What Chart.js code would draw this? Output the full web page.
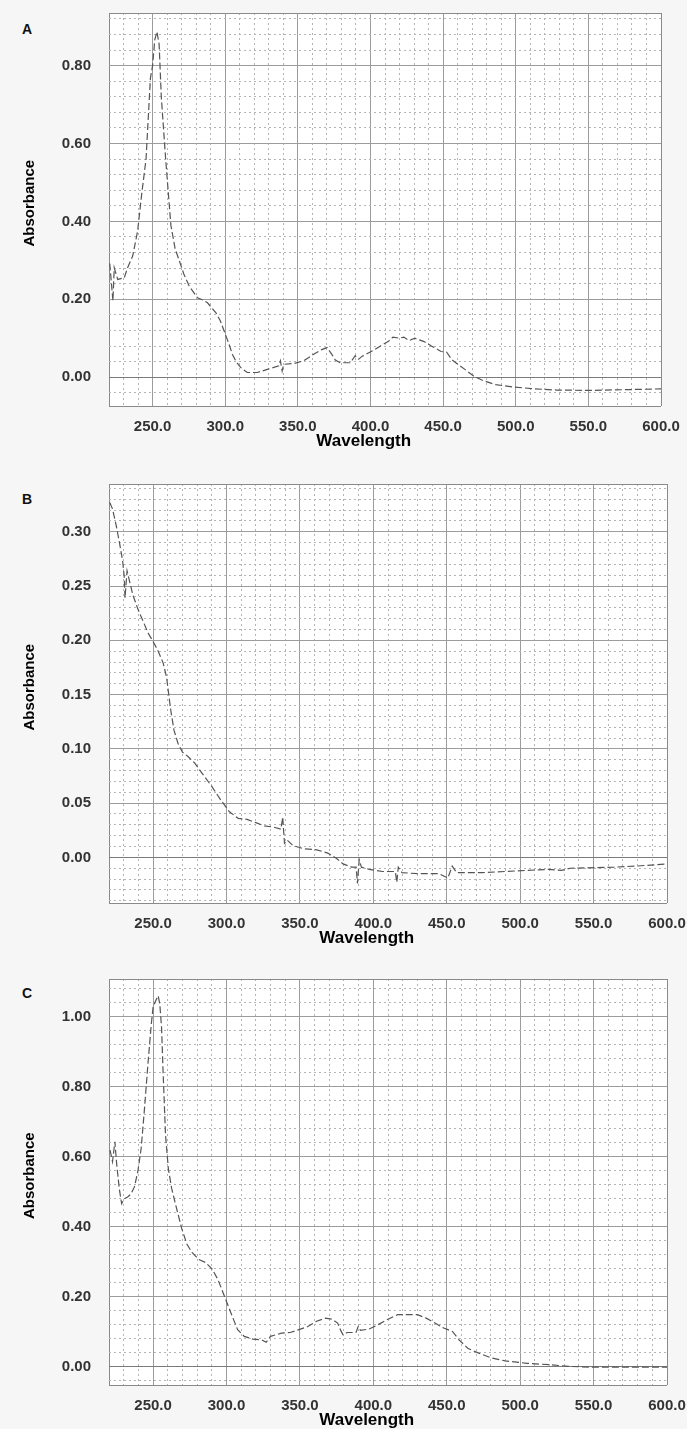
<!DOCTYPE html>
<html>
<head>
<meta charset="utf-8">
<title>Absorbance spectra</title>
<script src="https://cdn.jsdelivr.net/npm/chart.js@4.4.1/dist/chart.umd.min.js"></script>
<style>
  html, body { margin: 0; padding: 0; background: #f6f6f6; overflow: hidden; }
  body { width: 687px; height: 1429px; position: relative; }
  canvas { position: absolute; left: 0; }
  .letter { position: absolute; left: 22px; font: bold 14px 'Liberation Sans', Arial, sans-serif; line-height: 16px; color: #111; }
</style>
</head>
<body>
<div class="letter" style="top:21px">A</div>
<div class="letter" style="top:491px">B</div>
<div class="letter" style="top:985px">C</div>
<canvas id="chartA" width="687" height="460" style="top:0px"></canvas>
<canvas id="chartB" width="687" height="497" style="top:460px"></canvas>
<canvas id="chartC" width="687" height="479" style="top:960px"></canvas>
<script>
// wavelength range shared by the three spectra
const xMin = 220
const xMax = 600

// panel A
const wlA = [220.5, 222.7, 223.6, 226, 230.5, 232.8, 236.3, 239.7, 242.5, 245.5, 248.5, 250, 251.5, 253, 254.5, 256, 259, 262.6, 265.5, 268.3,
  271.5, 275.2, 280.9, 284.6, 287.8, 293.5, 296.6, 299.2, 302.6, 304.9, 307.5, 310.6, 315.2, 322.1, 329, 336.9, 338, 339.2, 340.3, 347.2,
  354.1, 360.9, 366, 370.1, 373.5, 375.8, 379.2, 386.1, 389.5, 391.8, 394.4, 400.5, 406.4, 412.4, 415.5, 420, 423, 426.6, 430.5, 436.5,
  442.5, 448.6, 452.5, 456, 460.6, 465, 471, 477, 486, 498, 513, 528, 552, 576.5, 600]
const absA = [0.292, 0.196, 0.281, 0.251, 0.255, 0.281, 0.311, 0.375, 0.47, 0.56, 0.767, 0.80, 0.866, 0.887, 0.855, 0.72, 0.56, 0.39, 0.33, 0.30,
  0.265, 0.234, 0.204, 0.198, 0.191, 0.166, 0.145, 0.119, 0.085, 0.059, 0.04, 0.025, 0.012, 0.012, 0.020, 0.029, 0.042, 0.016, 0.033, 0.035,
  0.042, 0.059, 0.07, 0.076, 0.058, 0.044, 0.037, 0.037, 0.055, 0.046, 0.054, 0.066, 0.079, 0.092, 0.103, 0.100, 0.103, 0.094, 0.100, 0.092,
  0.079, 0.066, 0.064, 0.045, 0.032, 0.020, 0.003, -0.008, -0.019, -0.025, -0.030, -0.033, -0.034, -0.032, -0.030]

// panel B
const wlB = [220.5, 222.4, 224.7, 227, 229.3, 230.4, 230.9, 232.3, 233.2, 236.2, 239.6, 243.1, 246.5, 250, 253.5, 256.9, 259.2, 262, 264.3, 267,
  270, 273.8, 278.3, 284.2, 290.2, 296.1, 302, 308, 314, 320, 325.8, 331.8, 337.1, 338.3, 339.5, 341.3, 345.2, 352.6, 361.5, 369,
  375, 379.4, 385.3, 388.3, 389.2, 390.4, 391.9, 397.2, 406.2, 415, 416, 417, 419.5, 430, 444.8, 450.8, 453.7, 456.7, 474.6, 489.4,
  504.3, 519.2, 528, 534, 563.8, 578.7, 600]
const absB = [0.327, 0.321, 0.307, 0.291, 0.273, 0.258, 0.239, 0.264, 0.259, 0.242, 0.229, 0.218, 0.207, 0.199, 0.190, 0.179, 0.166, 0.136, 0.117, 0.105,
  0.097, 0.093, 0.087, 0.076, 0.065, 0.053, 0.042, 0.036, 0.035, 0.032, 0.029, 0.028, 0.026, 0.037, 0.013, 0.016, 0.011, 0.008, 0.007, 0.004,
  -0.001, -0.006, -0.009, -0.009, -0.024, -0.002, -0.009, -0.011, -0.013, -0.013, -0.023, -0.009, -0.014, -0.015, -0.015, -0.019, -0.008, -0.014, -0.014, -0.013,
  -0.012, -0.011, -0.012, -0.010, -0.009, -0.008, -0.006]

// panel C
const wlC = [220.7, 222.4, 224, 225.3, 227, 228.6, 230.4, 232.7, 235, 237.3, 239.6, 241.9, 244.2, 246.5, 248.8, 250, 251.8, 253.5, 254.6, 255.8,
  256.9, 258.5, 260.4, 262.7, 266.1, 269.6, 273, 276.5, 281.1, 285.7, 290.3, 294.2, 298.7, 303.1, 307.6, 312.1, 318, 324, 327, 330,
  337.5, 343.4, 347.9, 355.4, 361.3, 367.3, 371.8, 375.7, 377.8, 379.3, 382.2, 388.2, 389.7, 391.2, 397.2, 403.1, 409.1, 416.6, 424, 430,
  436, 442, 447.9, 453.9, 458.4, 464.3, 471.8, 480.7, 489.7, 504.6, 519.6, 534.5, 549.4, 579.3, 600]
const absC = [0.619, 0.586, 0.643, 0.576, 0.509, 0.466, 0.480, 0.485, 0.494, 0.514, 0.557, 0.624, 0.739, 0.864, 0.979, 1.027, 1.046, 1.060, 1.036, 0.969,
  0.835, 0.662, 0.566, 0.509, 0.451, 0.394, 0.351, 0.327, 0.307, 0.298, 0.279, 0.249, 0.201, 0.153, 0.106, 0.087, 0.079, 0.077, 0.070, 0.087,
  0.096, 0.098, 0.104, 0.115, 0.130, 0.139, 0.136, 0.125, 0.104, 0.092, 0.098, 0.098, 0.115, 0.104, 0.108, 0.120, 0.134, 0.149, 0.149, 0.149,
  0.139, 0.125, 0.111, 0.101, 0.077, 0.053, 0.039, 0.025, 0.017, 0.010, 0.006, 0.001, -0.001, -0.001, -0.001]

const tickFont = "'Liberation Sans', Arial, sans-serif"
const titleFont = "'Liberation Sans', Arial, sans-serif"
const nb = '\u00a0'

function isMultiple(v, step){
    return Math.abs(v / step - Math.round(v / step)) < 1e-6
}

// grid values: every minor step plus the two bounds of the axis
function gridTicks(min, max, step){
    let ticks = []
    let first = Math.ceil(min / step - 1e-9)
    let last = Math.floor(max / step + 1e-9)
    if (!isMultiple(min, step)) ticks.push({value: min})
    for (let k = first; k <= last; k++){
        ticks.push({value: Math.round(k * step * 1e6) / 1e6})
    }
    if (!isMultiple(max, step)) ticks.push({value: max})
    return ticks
}

function lineColor(ctx, major, min, max){
    if (!ctx.tick) return '#999'
    let v = ctx.tick.value
    if (Math.abs(v - min) < 1e-9 || Math.abs(v - max) < 1e-9) return '#8a8a8a'
    if (Math.abs(v) < 1e-9) return '#7a7a7a'
    return isMultiple(v, major) ? '#9c9c9c' : '#b4b4b4'
}

function lineDash(ctx, major, min, max){
    if (!ctx.tick) return []
    let v = ctx.tick.value
    if (Math.abs(v - min) < 1e-9 || Math.abs(v - max) < 1e-9) return []
    return isMultiple(v, major) ? [] : [2, 3]
}

const plotBackground = {
    id: 'plotBackground',
    beforeDraw(chart){
        const {ctx, chartArea} = chart
        ctx.save()
        ctx.fillStyle = '#ffffff'
        ctx.fillRect(chartArea.left, chartArea.top, chartArea.right - chartArea.left, chartArea.bottom - chartArea.top)
        ctx.restore()
    }
}

function spectrum(id, wl, abs, opt){
    const points = wl.map((x, i) => ({x: x, y: abs[i]}))
    const config = {
        type: 'line',
        data: {
            datasets: [{
                data: points,
                borderColor: '#555',
                borderWidth: 1.2,
                borderDash: [7, 3],
                pointRadius: 0,
                fill: false,
                tension: 0
            }]
        },
        options: {
            responsive: false,
            animation: false,
            layout: {padding: {top: opt.padTop, right: opt.padRight, bottom: 0, left: 0}},
            plugins: {legend: {display: false}, tooltip: {enabled: false}},
            scales: {
                x: {
                    type: 'linear',
                    min: xMin,
                    max: xMax,
                    afterBuildTicks: s => { s.ticks = gridTicks(xMin, xMax, 10) },
                    afterFit: s => { s.height = 54 },
                    ticks: {
                        autoSkip: false,
                        maxRotation: 0,
                        padding: 0,
                        color: '#333',
                        font: {family: tickFont, size: 15, weight: 'bold'},
                        callback: v => isMultiple(v, 50) ? v.toFixed(1) : ''
                    },
                    grid: {
                        drawTicks: true,
                        tickLength: 12,
                        tickColor: 'rgba(0,0,0,0)',
                        lineWidth: 1,
                        color: ctx => lineColor(ctx, 50, xMin, xMax)
                    },
                    border: {display: false, dash: ctx => lineDash(ctx, 50, xMin, xMax)},
                    title: {
                        display: true,
                        text: 'Wavelength' + nb.repeat(9),
                        color: '#000',
                        font: {family: titleFont, size: 17, weight: 'bold'},
                        padding: {top: 0, bottom: 8}
                    }
                },
                y: {
                    type: 'linear',
                    min: opt.yMin,
                    max: opt.yMax,
                    afterBuildTicks: s => { s.ticks = gridTicks(opt.yMin, opt.yMax, opt.yMinor) },
                    afterFit: s => { s.width = 109 },
                    ticks: {
                        autoSkip: false,
                        padding: 0,
                        color: '#333',
                        font: {family: tickFont, size: 15, weight: 'bold'},
                        callback: v => isMultiple(v, opt.yMajor) ? v.toFixed(2) : ''
                    },
                    grid: {
                        drawTicks: true,
                        tickLength: 18,
                        tickColor: 'rgba(0,0,0,0)',
                        lineWidth: 1,
                        color: ctx => lineColor(ctx, opt.yMajor, opt.yMin, opt.yMax)
                    },
                    border: {display: false, dash: ctx => lineDash(ctx, opt.yMajor, opt.yMin, opt.yMax)},
                    title: {
                        display: true,
                        text: nb.repeat(3) + 'Absorbance',
                        color: '#000',
                        font: {family: titleFont, size: 15, weight: 'bold'},
                        padding: {top: 21, bottom: 0}
                    }
                }
            }
        },
        plugins: [plotBackground]
    }
    let ctx = document.getElementById(id).getContext('2d')
    new Chart(ctx, config)
}

spectrum('chartA', wlA, absA, {yMin: -0.074, yMax: 0.935, yMinor: 0.04, yMajor: 0.2, padTop: 13, padRight: 26})
spectrum('chartB', wlB, absB, {yMin: -0.042, yMax: 0.344, yMinor: 0.01, yMajor: 0.05, padTop: 24, padRight: 20})
spectrum('chartC', wlC, absC, {yMin: -0.052, yMax: 1.108, yMinor: 0.04, yMajor: 0.2, padTop: 19, padRight: 20})
</script>
</body>
</html>
